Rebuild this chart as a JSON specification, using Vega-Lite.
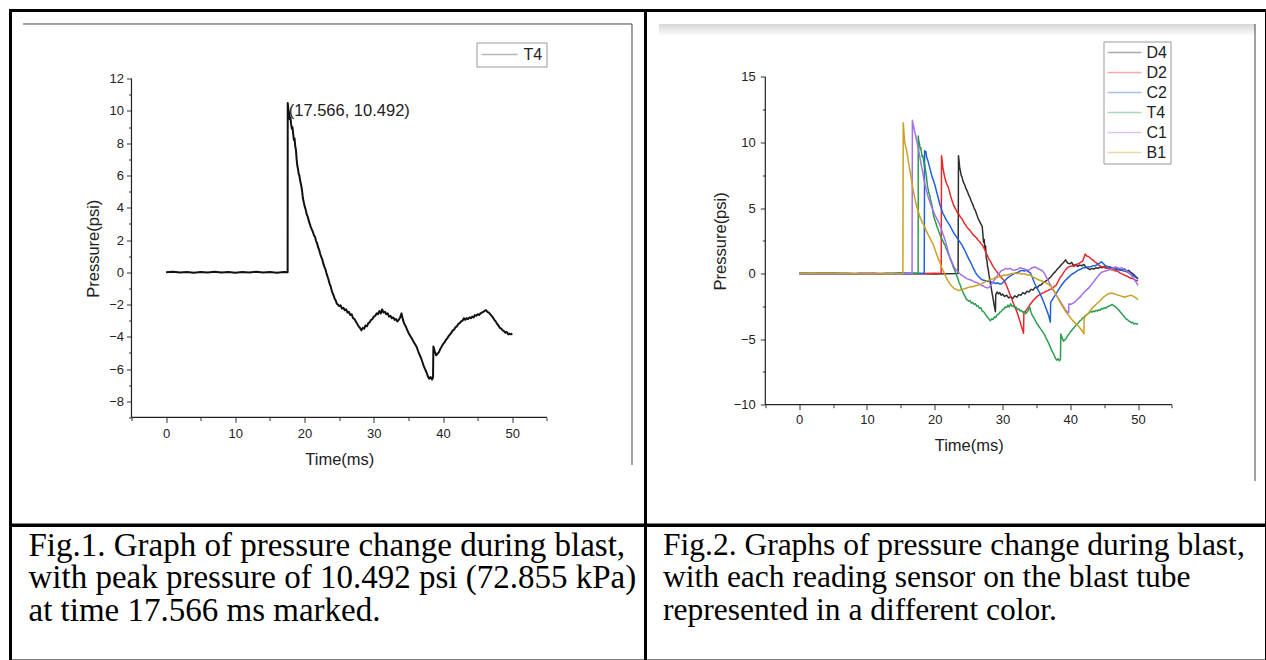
{
"$schema": "https://vega.github.io/schema/vega-lite/v6.json",
"background": "white",
"padding": {"left": 8.5, "top": 8.5, "right": 0, "bottom": 0},
"columns": 2,
"spacing": 0,
"bounds": "flush",
"resolve": {"scale": {"x": "independent", "y": "independent", "color": "independent"}, "axis": {"x": "independent", "y": "independent"}, "legend": {"color": "independent"}},
"config": {
  "view": {"stroke": "black", "strokeWidth": 3},
  "concat": {"spacing": 0},
  "axis": {"grid": false, "domain": false, "labelFont": "Liberation Sans", "titleFont": "Liberation Sans", "labelColor": "#222", "titleColor": "#222", "tickColor": "#333", "tickWidth": 1, "labelFontSize": 13, "titleFontSize": 16.5, "titleFontWeight": "normal", "labelOverlap": false, "labelFlush": false, "labelBound": false},
  "legend": {"labelFont": "Liberation Sans", "labelFontSize": 16, "labelColor": "#222", "symbolType": "stroke", "symbolStrokeWidth": 1.5, "strokeColor": "#999", "labelOffset": 5, "clipHeight": 16}
},
"datasets": {
"ann": [{"t": 17.566, "p": 10.492, "label": "(17.566, 10.492)"}],
"cap1": [{"line": 1, "text": "Fig.1. Graph of pressure change during blast,"}, {"line": 2, "text": "with peak pressure of 10.492 psi (72.855 kPa)"}, {"line": 3, "text": "at time 17.566 ms marked."}],
"cap2": [{"line": 1, "text": "Fig.2. Graphs of pressure change during blast,"}, {"line": 2, "text": "with each reading sensor on the blast tube"}, {"line": 3, "text": "represented in a different color."}],
"sensors": [
{"s":"D4","t":0,"p":0},{"s":"D4","t":5,"p":0.02},{"s":"D4","t":10,"p":-0.02},{"s":"D4","t":15,"p":0.02},{"s":"D4","t":20,"p":-0.02},{"s":"D4","t":23.45,"p":0},
{"s":"D4","t":23.5,"p":9.0},{"s":"D4","t":23.6,"p":8.5},{"s":"D4","t":23.7,"p":8.0},{"s":"D4","t":23.8,"p":7.8},{"s":"D4","t":23.9,"p":7.5},{"s":"D4","t":24.0,"p":7.4},{"s":"D4","t":24.2,"p":7.0},{"s":"D4","t":24.4,"p":6.8},{"s":"D4","t":24.6,"p":6.5},{"s":"D4","t":24.8,"p":6.3},{"s":"D4","t":25.0,"p":6.0},{"s":"D4","t":25.2,"p":5.8},{"s":"D4","t":25.4,"p":5.5},{"s":"D4","t":25.6,"p":5.3},{"s":"D4","t":25.8,"p":5.0},{"s":"D4","t":26.0,"p":4.8},{"s":"D4","t":26.2,"p":4.5},{"s":"D4","t":26.4,"p":4.2},{"s":"D4","t":26.6,"p":4.0},{"s":"D4","t":26.8,"p":3.8},{"s":"D4","t":27.0,"p":3.6},{"s":"D4","t":27.1,"p":3.0},{"s":"D4","t":27.2,"p":2.4},{"s":"D4","t":27.3,"p":2.6},{"s":"D4","t":27.4,"p":1.8},{"s":"D4","t":27.5,"p":2.1},{"s":"D4","t":27.6,"p":1.2},{"s":"D4","t":27.7,"p":1.0},{"s":"D4","t":27.8,"p":0.5},{"s":"D4","t":27.9,"p":0.3},{"s":"D4","t":28.0,"p":-0.1},{"s":"D4","t":28.2,"p":-0.7},{"s":"D4","t":28.4,"p":-1.3},{"s":"D4","t":28.6,"p":-1.9},{"s":"D4","t":28.8,"p":-2.5},{"s":"D4","t":28.95,"p":-2.9},{"s":"D4","t":29.0,"p":-1.6},{"s":"D4","t":29.2,"p":-1.4},{"s":"D4","t":29.4,"p":-1.55},{"s":"D4","t":29.6,"p":-1.45},{"s":"D4","t":29.8,"p":-1.65},{"s":"D4","t":30.0,"p":-1.55},{"s":"D4","t":30.3,"p":-1.75},{"s":"D4","t":30.6,"p":-1.65},{"s":"D4","t":30.9,"p":-1.85},{"s":"D4","t":31.2,"p":-1.75},{"s":"D4","t":31.5,"p":-1.9},{"s":"D4","t":31.8,"p":-1.7},{"s":"D4","t":32.1,"p":-1.8},{"s":"D4","t":32.4,"p":-1.6},{"s":"D4","t":32.7,"p":-1.65},{"s":"D4","t":33.0,"p":-1.45},{"s":"D4","t":33.3,"p":-1.55},{"s":"D4","t":33.6,"p":-1.35},{"s":"D4","t":33.9,"p":-1.4},{"s":"D4","t":34.2,"p":-1.2},{"s":"D4","t":34.5,"p":-1.25},{"s":"D4","t":34.8,"p":-1.05},{"s":"D4","t":35.1,"p":-1.1},{"s":"D4","t":35.4,"p":-0.9},{"s":"D4","t":35.7,"p":-0.85},{"s":"D4","t":36.0,"p":-0.7},{"s":"D4","t":36.3,"p":-0.6},{"s":"D4","t":36.6,"p":-0.5},{"s":"D4","t":36.9,"p":-0.35},{"s":"D4","t":37.2,"p":-0.2},{"s":"D4","t":37.5,"p":0.0},{"s":"D4","t":37.8,"p":0.15},{"s":"D4","t":38.1,"p":0.35},{"s":"D4","t":38.4,"p":0.5},{"s":"D4","t":38.7,"p":0.7},{"s":"D4","t":39.0,"p":0.85},{"s":"D4","t":39.3,"p":1.05},{"s":"D4","t":39.6,"p":0.8},{"s":"D4","t":39.9,"p":0.75},{"s":"D4","t":40.2,"p":0.85},{"s":"D4","t":40.5,"p":0.6},{"s":"D4","t":40.8,"p":0.7},{"s":"D4","t":41.1,"p":0.55},{"s":"D4","t":41.4,"p":0.65},{"s":"D4","t":41.7,"p":0.6},{"s":"D4","t":42.0,"p":0.7},{"s":"D4","t":42.3,"p":0.5},{"s":"D4","t":42.6,"p":0.4},{"s":"D4","t":42.9,"p":0.3},{"s":"D4","t":43.2,"p":0.4},{"s":"D4","t":43.5,"p":0.35},{"s":"D4","t":43.8,"p":0.45},{"s":"D4","t":44.1,"p":0.4},{"s":"D4","t":44.4,"p":0.5},{"s":"D4","t":44.7,"p":0.45},{"s":"D4","t":45.0,"p":0.55},{"s":"D4","t":45.3,"p":0.45},{"s":"D4","t":45.6,"p":0.4},{"s":"D4","t":45.9,"p":0.5},{"s":"D4","t":46.2,"p":0.35},{"s":"D4","t":46.5,"p":0.4},{"s":"D4","t":46.8,"p":0.3},{"s":"D4","t":47.1,"p":0.35},{"s":"D4","t":47.4,"p":0.25},{"s":"D4","t":47.7,"p":0.3},{"s":"D4","t":48.0,"p":0.35},{"s":"D4","t":48.3,"p":0.2},{"s":"D4","t":48.6,"p":0.25},{"s":"D4","t":48.9,"p":0.1},{"s":"D4","t":49.2,"p":0.0},{"s":"D4","t":49.5,"p":-0.15},{"s":"D4","t":49.8,"p":-0.3},{"s":"D4","t":50.0,"p":-0.4},
{"s":"D2","t":0,"p":0},{"s":"D2","t":5,"p":-0.02},{"s":"D2","t":10,"p":0.02},{"s":"D2","t":15,"p":-0.02},{"s":"D2","t":20,"p":0.02},{"s":"D2","t":20.95,"p":0},
{"s":"D2","t":21.0,"p":9.0},{"s":"D2","t":21.1,"p":8.6},{"s":"D2","t":21.2,"p":8.1},{"s":"D2","t":21.3,"p":7.8},{"s":"D2","t":21.45,"p":7.4},{"s":"D2","t":21.6,"p":7.1},{"s":"D2","t":21.8,"p":6.8},{"s":"D2","t":22.0,"p":6.6},{"s":"D2","t":22.2,"p":6.2},{"s":"D2","t":22.4,"p":5.8},{"s":"D2","t":22.6,"p":5.5},{"s":"D2","t":22.8,"p":5.2},{"s":"D2","t":23.0,"p":5.0},{"s":"D2","t":23.2,"p":4.8},{"s":"D2","t":23.4,"p":4.6},{"s":"D2","t":23.6,"p":4.5},{"s":"D2","t":23.8,"p":4.3},{"s":"D2","t":24.0,"p":4.2},{"s":"D2","t":24.2,"p":4.0},{"s":"D2","t":24.4,"p":3.8},{"s":"D2","t":24.6,"p":3.7},{"s":"D2","t":24.8,"p":3.5},{"s":"D2","t":25.0,"p":3.4},{"s":"D2","t":25.2,"p":3.3},{"s":"D2","t":25.4,"p":3.15},{"s":"D2","t":25.6,"p":3.0},{"s":"D2","t":25.8,"p":2.9},{"s":"D2","t":26.0,"p":2.8},{"s":"D2","t":26.2,"p":2.7},{"s":"D2","t":26.4,"p":2.55},{"s":"D2","t":26.6,"p":2.45},{"s":"D2","t":26.8,"p":2.3},{"s":"D2","t":27.0,"p":2.2},{"s":"D2","t":27.2,"p":2.0},{"s":"D2","t":27.4,"p":1.8},{"s":"D2","t":27.6,"p":1.55},{"s":"D2","t":27.8,"p":1.35},{"s":"D2","t":28.0,"p":1.1},{"s":"D2","t":28.2,"p":0.95},{"s":"D2","t":28.4,"p":0.75},{"s":"D2","t":28.6,"p":0.55},{"s":"D2","t":28.8,"p":0.4},{"s":"D2","t":29.0,"p":0.25},{"s":"D2","t":29.3,"p":0.05},{"s":"D2","t":29.6,"p":-0.15},{"s":"D2","t":29.9,"p":-0.35},{"s":"D2","t":30.2,"p":-0.5},{"s":"D2","t":30.5,"p":-0.8},{"s":"D2","t":30.8,"p":-1.2},{"s":"D2","t":31.1,"p":-1.6},{"s":"D2","t":31.4,"p":-2.0},{"s":"D2","t":31.7,"p":-2.4},{"s":"D2","t":32.0,"p":-2.75},{"s":"D2","t":32.3,"p":-3.2},{"s":"D2","t":32.6,"p":-3.7},{"s":"D2","t":32.9,"p":-4.2},{"s":"D2","t":33.1,"p":-4.55},{"s":"D2","t":33.15,"p":-3.0},{"s":"D2","t":33.4,"p":-2.85},{"s":"D2","t":33.7,"p":-2.65},{"s":"D2","t":34.0,"p":-2.4},{"s":"D2","t":34.3,"p":-2.2},{"s":"D2","t":34.6,"p":-2.0},{"s":"D2","t":34.9,"p":-1.85},{"s":"D2","t":35.2,"p":-1.7},{"s":"D2","t":35.5,"p":-1.6},{"s":"D2","t":35.8,"p":-1.5},{"s":"D2","t":36.1,"p":-1.45},{"s":"D2","t":36.4,"p":-1.35},{"s":"D2","t":36.7,"p":-1.3},{"s":"D2","t":37.0,"p":-1.2},{"s":"D2","t":37.3,"p":-1.15},{"s":"D2","t":37.6,"p":-1.0},{"s":"D2","t":37.9,"p":-0.9},{"s":"D2","t":38.2,"p":-0.6},{"s":"D2","t":38.5,"p":-0.3},{"s":"D2","t":38.8,"p":-0.1},{"s":"D2","t":39.1,"p":0.15},{"s":"D2","t":39.4,"p":0.35},{"s":"D2","t":39.7,"p":0.5},{"s":"D2","t":40.0,"p":0.55},{"s":"D2","t":40.3,"p":0.6},{"s":"D2","t":40.6,"p":0.55},{"s":"D2","t":40.9,"p":0.7},{"s":"D2","t":41.2,"p":0.75},{"s":"D2","t":41.5,"p":0.85},{"s":"D2","t":41.8,"p":0.95},{"s":"D2","t":42.0,"p":1.2},{"s":"D2","t":42.2,"p":1.5},{"s":"D2","t":42.4,"p":1.35},{"s":"D2","t":42.7,"p":1.3},{"s":"D2","t":43.0,"p":1.15},{"s":"D2","t":43.3,"p":1.05},{"s":"D2","t":43.6,"p":0.9},{"s":"D2","t":43.9,"p":0.8},{"s":"D2","t":44.2,"p":0.65},{"s":"D2","t":44.5,"p":0.55},{"s":"D2","t":44.8,"p":0.5},{"s":"D2","t":45.1,"p":0.45},{"s":"D2","t":45.4,"p":0.4},{"s":"D2","t":45.7,"p":0.4},{"s":"D2","t":46.0,"p":0.3},{"s":"D2","t":46.3,"p":0.3},{"s":"D2","t":46.6,"p":0.2},{"s":"D2","t":46.9,"p":0.2},{"s":"D2","t":47.2,"p":0.1},{"s":"D2","t":47.5,"p":0.0},{"s":"D2","t":47.8,"p":-0.05},{"s":"D2","t":48.1,"p":-0.15},{"s":"D2","t":48.4,"p":-0.2},{"s":"D2","t":48.7,"p":-0.3},{"s":"D2","t":49.0,"p":-0.35},{"s":"D2","t":49.3,"p":-0.4},{"s":"D2","t":49.6,"p":-0.5},{"s":"D2","t":50.0,"p":-0.55},
{"s":"C2","t":0,"p":0},{"s":"C2","t":5,"p":0.02},{"s":"C2","t":10,"p":-0.02},{"s":"C2","t":15,"p":0.02},{"s":"C2","t":18.45,"p":0},
{"s":"C2","t":18.5,"p":9.4},{"s":"C2","t":18.6,"p":9.2},{"s":"C2","t":18.7,"p":9.3},{"s":"C2","t":18.8,"p":8.9},{"s":"C2","t":19.0,"p":8.6},{"s":"C2","t":19.2,"p":8.2},{"s":"C2","t":19.4,"p":7.8},{"s":"C2","t":19.6,"p":7.4},{"s":"C2","t":19.8,"p":7.1},{"s":"C2","t":20.0,"p":6.8},{"s":"C2","t":20.2,"p":6.4},{"s":"C2","t":20.4,"p":6.0},{"s":"C2","t":20.6,"p":5.6},{"s":"C2","t":20.8,"p":5.2},{"s":"C2","t":21.0,"p":4.9},{"s":"C2","t":21.2,"p":4.6},{"s":"C2","t":21.4,"p":4.4},{"s":"C2","t":21.6,"p":4.2},{"s":"C2","t":21.8,"p":4.0},{"s":"C2","t":22.0,"p":3.85},{"s":"C2","t":22.2,"p":3.7},{"s":"C2","t":22.4,"p":3.5},{"s":"C2","t":22.6,"p":3.3},{"s":"C2","t":22.8,"p":3.1},{"s":"C2","t":23.0,"p":2.95},{"s":"C2","t":23.2,"p":2.8},{"s":"C2","t":23.4,"p":2.65},{"s":"C2","t":23.6,"p":2.5},{"s":"C2","t":23.8,"p":2.35},{"s":"C2","t":24.0,"p":2.2},{"s":"C2","t":24.2,"p":2.0},{"s":"C2","t":24.4,"p":1.8},{"s":"C2","t":24.6,"p":1.6},{"s":"C2","t":24.8,"p":1.35},{"s":"C2","t":25.0,"p":1.15},{"s":"C2","t":25.2,"p":0.95},{"s":"C2","t":25.4,"p":0.75},{"s":"C2","t":25.6,"p":0.5},{"s":"C2","t":25.8,"p":0.3},{"s":"C2","t":26.0,"p":0.1},{"s":"C2","t":26.3,"p":-0.15},{"s":"C2","t":26.6,"p":-0.3},{"s":"C2","t":26.9,"p":-0.45},{"s":"C2","t":27.2,"p":-0.5},{"s":"C2","t":27.5,"p":-0.55},{"s":"C2","t":27.8,"p":-0.6},{"s":"C2","t":28.1,"p":-0.55},{"s":"C2","t":28.4,"p":-0.65},{"s":"C2","t":28.7,"p":-0.7},{"s":"C2","t":29.0,"p":-0.75},{"s":"C2","t":29.3,"p":-0.7},{"s":"C2","t":29.6,"p":-0.8},{"s":"C2","t":29.9,"p":-0.75},{"s":"C2","t":30.2,"p":-0.6},{"s":"C2","t":30.5,"p":-0.45},{"s":"C2","t":30.8,"p":-0.3},{"s":"C2","t":31.1,"p":-0.2},{"s":"C2","t":31.4,"p":-0.1},{"s":"C2","t":31.7,"p":0.0},{"s":"C2","t":32.0,"p":0.05},{"s":"C2","t":32.3,"p":0.1},{"s":"C2","t":32.6,"p":0.2},{"s":"C2","t":32.9,"p":0.25},{"s":"C2","t":33.2,"p":0.2},{"s":"C2","t":33.5,"p":0.25},{"s":"C2","t":33.8,"p":0.15},{"s":"C2","t":34.1,"p":0.05},{"s":"C2","t":34.4,"p":-0.3},{"s":"C2","t":34.7,"p":-0.7},{"s":"C2","t":35.0,"p":-1.0},{"s":"C2","t":35.3,"p":-1.3},{"s":"C2","t":35.6,"p":-1.6},{"s":"C2","t":35.9,"p":-1.95},{"s":"C2","t":36.2,"p":-2.35},{"s":"C2","t":36.5,"p":-2.75},{"s":"C2","t":36.8,"p":-3.2},{"s":"C2","t":37.05,"p":-3.7},{"s":"C2","t":37.1,"p":-2.2},{"s":"C2","t":37.4,"p":-1.95},{"s":"C2","t":37.7,"p":-1.7},{"s":"C2","t":38.0,"p":-1.45},{"s":"C2","t":38.3,"p":-1.2},{"s":"C2","t":38.6,"p":-0.95},{"s":"C2","t":38.9,"p":-0.75},{"s":"C2","t":39.2,"p":-0.55},{"s":"C2","t":39.5,"p":-0.4},{"s":"C2","t":39.8,"p":-0.25},{"s":"C2","t":40.1,"p":-0.1},{"s":"C2","t":40.4,"p":0.0},{"s":"C2","t":40.7,"p":0.1},{"s":"C2","t":41.0,"p":0.2},{"s":"C2","t":41.3,"p":0.3},{"s":"C2","t":41.6,"p":0.35},{"s":"C2","t":41.9,"p":0.45},{"s":"C2","t":42.2,"p":0.45},{"s":"C2","t":42.5,"p":0.5},{"s":"C2","t":42.8,"p":0.5},{"s":"C2","t":43.1,"p":0.55},{"s":"C2","t":43.4,"p":0.6},{"s":"C2","t":43.7,"p":0.6},{"s":"C2","t":44.0,"p":0.7},{"s":"C2","t":44.3,"p":0.8},{"s":"C2","t":44.6,"p":0.9},{"s":"C2","t":44.9,"p":0.75},{"s":"C2","t":45.2,"p":0.6},{"s":"C2","t":45.5,"p":0.55},{"s":"C2","t":45.8,"p":0.5},{"s":"C2","t":46.1,"p":0.45},{"s":"C2","t":46.4,"p":0.4},{"s":"C2","t":46.7,"p":0.4},{"s":"C2","t":47.0,"p":0.3},{"s":"C2","t":47.3,"p":0.3},{"s":"C2","t":47.6,"p":0.25},{"s":"C2","t":47.9,"p":0.2},{"s":"C2","t":48.2,"p":0.15},{"s":"C2","t":48.5,"p":0.1},{"s":"C2","t":48.8,"p":0.0},{"s":"C2","t":49.1,"p":-0.1},{"s":"C2","t":49.4,"p":-0.2},{"s":"C2","t":49.7,"p":-0.3},{"s":"C2","t":50.0,"p":-0.4},
{"s":"T4","t":0,"p":0},{"s":"T4","t":1,"p":0.03},{"s":"T4","t":2,"p":-0.02},{"s":"T4","t":3,"p":0.02},{"s":"T4","t":4,"p":-0.03},{"s":"T4","t":5,"p":0.02},{"s":"T4","t":6,"p":-0.02},{"s":"T4","t":7,"p":0.03},{"s":"T4","t":8,"p":-0.02},{"s":"T4","t":9,"p":0.02},{"s":"T4","t":10,"p":-0.03},{"s":"T4","t":11,"p":0.02},{"s":"T4","t":12,"p":-0.02},{"s":"T4","t":13,"p":0.03},{"s":"T4","t":14,"p":-0.02},{"s":"T4","t":15,"p":0.02},{"s":"T4","t":16,"p":-0.03},{"s":"T4","t":17,"p":0.02},{"s":"T4","t":17.55,"p":0.0},
{"s":"T4","t":17.566,"p":10.492},{"s":"T4","t":17.65,"p":10.1},{"s":"T4","t":17.75,"p":9.9},{"s":"T4","t":17.85,"p":9.5},{"s":"T4","t":17.95,"p":9.6},{"s":"T4","t":18.05,"p":9.2},{"s":"T4","t":18.15,"p":8.9},{"s":"T4","t":18.25,"p":9.0},{"s":"T4","t":18.35,"p":8.6},{"s":"T4","t":18.45,"p":8.2},{"s":"T4","t":18.55,"p":8.3},{"s":"T4","t":18.65,"p":7.8},{"s":"T4","t":18.75,"p":7.6},{"s":"T4","t":18.85,"p":7.0},{"s":"T4","t":18.95,"p":6.6},{"s":"T4","t":19.05,"p":6.4},{"s":"T4","t":19.15,"p":6.1},{"s":"T4","t":19.25,"p":6.0},{"s":"T4","t":19.35,"p":5.7},{"s":"T4","t":19.45,"p":5.5},{"s":"T4","t":19.55,"p":5.3},{"s":"T4","t":19.65,"p":5.0},{"s":"T4","t":19.75,"p":4.6},{"s":"T4","t":19.85,"p":4.4},{"s":"T4","t":20.0,"p":4.1},{"s":"T4","t":20.15,"p":3.9},{"s":"T4","t":20.3,"p":3.6},{"s":"T4","t":20.45,"p":3.45},{"s":"T4","t":20.6,"p":3.2},{"s":"T4","t":20.75,"p":3.0},{"s":"T4","t":20.9,"p":2.8},{"s":"T4","t":21.05,"p":2.65},{"s":"T4","t":21.2,"p":2.5},{"s":"T4","t":21.35,"p":2.3},{"s":"T4","t":21.5,"p":2.2},{"s":"T4","t":21.65,"p":1.95},{"s":"T4","t":21.8,"p":1.8},{"s":"T4","t":21.95,"p":1.55},{"s":"T4","t":22.1,"p":1.4},{"s":"T4","t":22.25,"p":1.15},{"s":"T4","t":22.4,"p":0.95},{"s":"T4","t":22.55,"p":0.8},{"s":"T4","t":22.7,"p":0.55},{"s":"T4","t":22.85,"p":0.35},{"s":"T4","t":23.0,"p":0.2},{"s":"T4","t":23.15,"p":-0.05},{"s":"T4","t":23.3,"p":-0.25},{"s":"T4","t":23.45,"p":-0.45},{"s":"T4","t":23.6,"p":-0.7},{"s":"T4","t":23.75,"p":-0.85},{"s":"T4","t":23.9,"p":-1.1},{"s":"T4","t":24.05,"p":-1.3},{"s":"T4","t":24.2,"p":-1.45},{"s":"T4","t":24.35,"p":-1.65},{"s":"T4","t":24.5,"p":-1.75},{"s":"T4","t":24.65,"p":-1.95},{"s":"T4","t":24.8,"p":-2.0},{"s":"T4","t":25.0,"p":-2.1},{"s":"T4","t":25.2,"p":-2.05},{"s":"T4","t":25.4,"p":-2.25},{"s":"T4","t":25.6,"p":-2.2},{"s":"T4","t":25.8,"p":-2.35},{"s":"T4","t":26.0,"p":-2.3},{"s":"T4","t":26.2,"p":-2.5},{"s":"T4","t":26.4,"p":-2.45},{"s":"T4","t":26.6,"p":-2.65},{"s":"T4","t":26.8,"p":-2.6},{"s":"T4","t":27.0,"p":-2.85},{"s":"T4","t":27.2,"p":-2.9},{"s":"T4","t":27.4,"p":-3.05},{"s":"T4","t":27.6,"p":-3.2},{"s":"T4","t":27.8,"p":-3.35},{"s":"T4","t":28.0,"p":-3.45},{"s":"T4","t":28.2,"p":-3.6},{"s":"T4","t":28.4,"p":-3.45},{"s":"T4","t":28.6,"p":-3.5},{"s":"T4","t":28.8,"p":-3.3},{"s":"T4","t":29.0,"p":-3.35},{"s":"T4","t":29.2,"p":-3.15},{"s":"T4","t":29.4,"p":-3.1},{"s":"T4","t":29.6,"p":-2.95},{"s":"T4","t":29.8,"p":-2.9},{"s":"T4","t":30.0,"p":-2.75},{"s":"T4","t":30.2,"p":-2.7},{"s":"T4","t":30.4,"p":-2.55},{"s":"T4","t":30.6,"p":-2.6},{"s":"T4","t":30.8,"p":-2.4},{"s":"T4","t":31.0,"p":-2.55},{"s":"T4","t":31.2,"p":-2.3},{"s":"T4","t":31.4,"p":-2.5},{"s":"T4","t":31.6,"p":-2.45},{"s":"T4","t":31.8,"p":-2.6},{"s":"T4","t":32.0,"p":-2.55},{"s":"T4","t":32.2,"p":-2.75},{"s":"T4","t":32.4,"p":-2.7},{"s":"T4","t":32.6,"p":-2.85},{"s":"T4","t":32.8,"p":-2.8},{"s":"T4","t":33.0,"p":-2.95},{"s":"T4","t":33.2,"p":-2.9},{"s":"T4","t":33.4,"p":-3.05},{"s":"T4","t":33.6,"p":-2.95},{"s":"T4","t":33.8,"p":-2.8},{"s":"T4","t":34.0,"p":-2.55},{"s":"T4","t":34.2,"p":-2.95},{"s":"T4","t":34.4,"p":-3.2},{"s":"T4","t":34.6,"p":-3.35},{"s":"T4","t":34.8,"p":-3.55},{"s":"T4","t":35.0,"p":-3.75},{"s":"T4","t":35.2,"p":-3.9},{"s":"T4","t":35.4,"p":-4.05},{"s":"T4","t":35.6,"p":-4.2},{"s":"T4","t":35.8,"p":-4.35},{"s":"T4","t":36.0,"p":-4.5},{"s":"T4","t":36.2,"p":-4.65},{"s":"T4","t":36.4,"p":-4.9},{"s":"T4","t":36.6,"p":-5.1},{"s":"T4","t":36.8,"p":-5.3},{"s":"T4","t":37.0,"p":-5.55},{"s":"T4","t":37.2,"p":-5.8},{"s":"T4","t":37.4,"p":-6.0},{"s":"T4","t":37.6,"p":-6.2},{"s":"T4","t":37.8,"p":-6.45},{"s":"T4","t":38.0,"p":-6.6},{"s":"T4","t":38.2,"p":-6.5},{"s":"T4","t":38.4,"p":-6.65},{"s":"T4","t":38.55,"p":-6.5},{"s":"T4","t":38.6,"p":-4.6},{"s":"T4","t":38.8,"p":-4.9},{"s":"T4","t":39.0,"p":-5.15},{"s":"T4","t":39.2,"p":-5.05},{"s":"T4","t":39.4,"p":-4.95},{"s":"T4","t":39.6,"p":-4.75},{"s":"T4","t":39.8,"p":-4.6},{"s":"T4","t":40.0,"p":-4.45},{"s":"T4","t":40.2,"p":-4.35},{"s":"T4","t":40.4,"p":-4.2},{"s":"T4","t":40.6,"p":-4.1},{"s":"T4","t":40.8,"p":-3.95},{"s":"T4","t":41.0,"p":-3.85},{"s":"T4","t":41.2,"p":-3.75},{"s":"T4","t":41.4,"p":-3.6},{"s":"T4","t":41.6,"p":-3.55},{"s":"T4","t":41.8,"p":-3.4},{"s":"T4","t":42.0,"p":-3.35},{"s":"T4","t":42.2,"p":-3.2},{"s":"T4","t":42.4,"p":-3.15},{"s":"T4","t":42.6,"p":-3.05},{"s":"T4","t":42.8,"p":-3.0},{"s":"T4","t":43.0,"p":-2.85},{"s":"T4","t":43.2,"p":-2.95},{"s":"T4","t":43.4,"p":-2.85},{"s":"T4","t":43.6,"p":-2.9},{"s":"T4","t":43.8,"p":-2.8},{"s":"T4","t":44.0,"p":-2.85},{"s":"T4","t":44.2,"p":-2.75},{"s":"T4","t":44.4,"p":-2.8},{"s":"T4","t":44.6,"p":-2.65},{"s":"T4","t":44.8,"p":-2.7},{"s":"T4","t":45.0,"p":-2.6},{"s":"T4","t":45.2,"p":-2.65},{"s":"T4","t":45.4,"p":-2.55},{"s":"T4","t":45.6,"p":-2.5},{"s":"T4","t":45.8,"p":-2.45},{"s":"T4","t":46.0,"p":-2.4},{"s":"T4","t":46.2,"p":-2.35},{"s":"T4","t":46.4,"p":-2.45},{"s":"T4","t":46.6,"p":-2.5},{"s":"T4","t":46.8,"p":-2.6},{"s":"T4","t":47.0,"p":-2.7},{"s":"T4","t":47.2,"p":-2.8},{"s":"T4","t":47.4,"p":-2.95},{"s":"T4","t":47.6,"p":-3.05},{"s":"T4","t":47.8,"p":-3.2},{"s":"T4","t":48.0,"p":-3.3},{"s":"T4","t":48.2,"p":-3.45},{"s":"T4","t":48.4,"p":-3.5},{"s":"T4","t":48.6,"p":-3.6},{"s":"T4","t":48.8,"p":-3.65},{"s":"T4","t":49.0,"p":-3.75},{"s":"T4","t":49.2,"p":-3.7},{"s":"T4","t":49.4,"p":-3.85},{"s":"T4","t":49.6,"p":-3.8},{"s":"T4","t":49.8,"p":-3.85},{"s":"T4","t":50.0,"p":-3.8},
{"s":"C1","t":0,"p":0},{"s":"C1","t":5,"p":-0.02},{"s":"C1","t":10,"p":0.02},{"s":"C1","t":15,"p":-0.02},{"s":"C1","t":16.65,"p":0},
{"s":"C1","t":16.7,"p":11.7},{"s":"C1","t":16.8,"p":11.4},{"s":"C1","t":16.9,"p":11.2},{"s":"C1","t":17.0,"p":10.9},{"s":"C1","t":17.2,"p":10.5},{"s":"C1","t":17.4,"p":10.0},{"s":"C1","t":17.6,"p":9.5},{"s":"C1","t":17.8,"p":8.9},{"s":"C1","t":18.0,"p":8.3},{"s":"C1","t":18.2,"p":7.8},{"s":"C1","t":18.4,"p":7.2},{"s":"C1","t":18.6,"p":6.7},{"s":"C1","t":18.8,"p":6.3},{"s":"C1","t":19.0,"p":5.9},{"s":"C1","t":19.2,"p":5.6},{"s":"C1","t":19.4,"p":5.3},{"s":"C1","t":19.6,"p":5.0},{"s":"C1","t":19.8,"p":4.75},{"s":"C1","t":20.0,"p":4.5},{"s":"C1","t":20.2,"p":4.3},{"s":"C1","t":20.4,"p":4.1},{"s":"C1","t":20.6,"p":3.9},{"s":"C1","t":20.8,"p":3.65},{"s":"C1","t":21.0,"p":3.35},{"s":"C1","t":21.2,"p":3.05},{"s":"C1","t":21.4,"p":2.75},{"s":"C1","t":21.6,"p":2.4},{"s":"C1","t":21.8,"p":2.05},{"s":"C1","t":22.0,"p":1.65},{"s":"C1","t":22.2,"p":1.3},{"s":"C1","t":22.4,"p":1.05},{"s":"C1","t":22.6,"p":0.8},{"s":"C1","t":22.8,"p":0.55},{"s":"C1","t":23.0,"p":0.4},{"s":"C1","t":23.3,"p":0.2},{"s":"C1","t":23.6,"p":0.05},{"s":"C1","t":23.9,"p":-0.1},{"s":"C1","t":24.2,"p":-0.2},{"s":"C1","t":24.5,"p":-0.3},{"s":"C1","t":24.8,"p":-0.4},{"s":"C1","t":25.1,"p":-0.45},{"s":"C1","t":25.4,"p":-0.5},{"s":"C1","t":25.7,"p":-0.6},{"s":"C1","t":26.0,"p":-0.65},{"s":"C1","t":26.3,"p":-0.7},{"s":"C1","t":26.6,"p":-0.8},{"s":"C1","t":26.9,"p":-0.9},{"s":"C1","t":27.2,"p":-0.95},{"s":"C1","t":27.5,"p":-1.05},{"s":"C1","t":27.8,"p":-1.1},{"s":"C1","t":28.1,"p":-1.0},{"s":"C1","t":28.4,"p":-0.8},{"s":"C1","t":28.7,"p":-0.55},{"s":"C1","t":29.0,"p":-0.35},{"s":"C1","t":29.3,"p":-0.1},{"s":"C1","t":29.6,"p":0.1},{"s":"C1","t":29.9,"p":0.25},{"s":"C1","t":30.2,"p":0.3},{"s":"C1","t":30.5,"p":0.4},{"s":"C1","t":30.8,"p":0.35},{"s":"C1","t":31.1,"p":0.4},{"s":"C1","t":31.4,"p":0.3},{"s":"C1","t":31.7,"p":0.25},{"s":"C1","t":32.0,"p":0.3},{"s":"C1","t":32.3,"p":0.35},{"s":"C1","t":32.6,"p":0.45},{"s":"C1","t":32.9,"p":0.4},{"s":"C1","t":33.2,"p":0.35},{"s":"C1","t":33.5,"p":0.3},{"s":"C1","t":33.8,"p":0.25},{"s":"C1","t":34.1,"p":0.35},{"s":"C1","t":34.4,"p":0.45},{"s":"C1","t":34.7,"p":0.5},{"s":"C1","t":35.0,"p":0.45},{"s":"C1","t":35.3,"p":0.35},{"s":"C1","t":35.6,"p":0.3},{"s":"C1","t":35.9,"p":0.2},{"s":"C1","t":36.2,"p":0.0},{"s":"C1","t":36.5,"p":-0.3},{"s":"C1","t":36.8,"p":-0.6},{"s":"C1","t":37.1,"p":-0.9},{"s":"C1","t":37.4,"p":-1.2},{"s":"C1","t":37.7,"p":-1.45},{"s":"C1","t":38.0,"p":-1.7},{"s":"C1","t":38.3,"p":-1.95},{"s":"C1","t":38.6,"p":-2.2},{"s":"C1","t":38.9,"p":-2.45},{"s":"C1","t":39.2,"p":-2.7},{"s":"C1","t":39.5,"p":-2.9},{"s":"C1","t":39.75,"p":-3.0},{"s":"C1","t":39.8,"p":-2.3},{"s":"C1","t":40.1,"p":-2.35},{"s":"C1","t":40.4,"p":-2.25},{"s":"C1","t":40.7,"p":-2.15},{"s":"C1","t":41.0,"p":-2.0},{"s":"C1","t":41.3,"p":-1.85},{"s":"C1","t":41.6,"p":-1.7},{"s":"C1","t":41.9,"p":-1.5},{"s":"C1","t":42.2,"p":-1.35},{"s":"C1","t":42.5,"p":-1.2},{"s":"C1","t":42.8,"p":-1.05},{"s":"C1","t":43.1,"p":-0.85},{"s":"C1","t":43.4,"p":-0.65},{"s":"C1","t":43.7,"p":-0.45},{"s":"C1","t":44.0,"p":-0.25},{"s":"C1","t":44.3,"p":-0.05},{"s":"C1","t":44.6,"p":0.1},{"s":"C1","t":44.9,"p":0.15},{"s":"C1","t":45.2,"p":0.2},{"s":"C1","t":45.5,"p":0.25},{"s":"C1","t":45.8,"p":0.3},{"s":"C1","t":46.1,"p":0.35},{"s":"C1","t":46.4,"p":0.45},{"s":"C1","t":46.7,"p":0.5},{"s":"C1","t":47.0,"p":0.45},{"s":"C1","t":47.3,"p":0.4},{"s":"C1","t":47.6,"p":0.45},{"s":"C1","t":47.9,"p":0.3},{"s":"C1","t":48.2,"p":0.25},{"s":"C1","t":48.5,"p":0.15},{"s":"C1","t":48.8,"p":0.0},{"s":"C1","t":49.1,"p":-0.2},{"s":"C1","t":49.4,"p":-0.4},{"s":"C1","t":49.7,"p":-0.65},{"s":"C1","t":50.0,"p":-0.9},
{"s":"B1","t":0,"p":0},{"s":"B1","t":5,"p":0.02},{"s":"B1","t":10,"p":-0.02},{"s":"B1","t":15.3,"p":0},
{"s":"B1","t":15.35,"p":11.5},{"s":"B1","t":15.45,"p":10.8},{"s":"B1","t":15.55,"p":10.1},{"s":"B1","t":15.65,"p":9.8},{"s":"B1","t":15.8,"p":9.5},{"s":"B1","t":15.95,"p":9.1},{"s":"B1","t":16.1,"p":8.6},{"s":"B1","t":16.25,"p":8.1},{"s":"B1","t":16.4,"p":7.7},{"s":"B1","t":16.55,"p":7.2},{"s":"B1","t":16.7,"p":6.7},{"s":"B1","t":16.85,"p":6.3},{"s":"B1","t":17.0,"p":5.9},{"s":"B1","t":17.2,"p":5.4},{"s":"B1","t":17.4,"p":5.0},{"s":"B1","t":17.6,"p":4.7},{"s":"B1","t":17.8,"p":4.35},{"s":"B1","t":18.0,"p":4.1},{"s":"B1","t":18.2,"p":3.85},{"s":"B1","t":18.4,"p":3.7},{"s":"B1","t":18.6,"p":3.45},{"s":"B1","t":18.8,"p":3.2},{"s":"B1","t":19.0,"p":3.0},{"s":"B1","t":19.2,"p":2.8},{"s":"B1","t":19.4,"p":2.6},{"s":"B1","t":19.6,"p":2.4},{"s":"B1","t":19.8,"p":2.2},{"s":"B1","t":20.0,"p":1.9},{"s":"B1","t":20.2,"p":1.6},{"s":"B1","t":20.4,"p":1.3},{"s":"B1","t":20.6,"p":1.05},{"s":"B1","t":20.8,"p":0.8},{"s":"B1","t":21.0,"p":0.5},{"s":"B1","t":21.2,"p":0.25},{"s":"B1","t":21.4,"p":0.05},{"s":"B1","t":21.6,"p":-0.2},{"s":"B1","t":21.8,"p":-0.4},{"s":"B1","t":22.0,"p":-0.6},{"s":"B1","t":22.2,"p":-0.75},{"s":"B1","t":22.4,"p":-0.9},{"s":"B1","t":22.6,"p":-1.0},{"s":"B1","t":22.9,"p":-1.15},{"s":"B1","t":23.2,"p":-1.2},{"s":"B1","t":23.5,"p":-1.3},{"s":"B1","t":23.8,"p":-1.25},{"s":"B1","t":24.1,"p":-1.2},{"s":"B1","t":24.4,"p":-1.15},{"s":"B1","t":24.7,"p":-1.1},{"s":"B1","t":25.0,"p":-1.05},{"s":"B1","t":25.3,"p":-1.0},{"s":"B1","t":25.6,"p":-1.0},{"s":"B1","t":25.9,"p":-0.95},{"s":"B1","t":26.2,"p":-0.9},{"s":"B1","t":26.5,"p":-0.85},{"s":"B1","t":26.8,"p":-0.8},{"s":"B1","t":27.1,"p":-0.7},{"s":"B1","t":27.4,"p":-0.65},{"s":"B1","t":27.7,"p":-0.55},{"s":"B1","t":28.0,"p":-0.5},{"s":"B1","t":28.3,"p":-0.45},{"s":"B1","t":28.6,"p":-0.4},{"s":"B1","t":28.9,"p":-0.3},{"s":"B1","t":29.2,"p":-0.3},{"s":"B1","t":29.5,"p":-0.25},{"s":"B1","t":29.8,"p":-0.2},{"s":"B1","t":30.1,"p":-0.15},{"s":"B1","t":30.4,"p":-0.1},{"s":"B1","t":30.7,"p":-0.1},{"s":"B1","t":31.0,"p":-0.05},{"s":"B1","t":31.3,"p":0.0},{"s":"B1","t":31.6,"p":0.0},{"s":"B1","t":31.9,"p":0.05},{"s":"B1","t":32.2,"p":0.0},{"s":"B1","t":32.5,"p":0.05},{"s":"B1","t":32.8,"p":-0.05},{"s":"B1","t":33.1,"p":0.0},{"s":"B1","t":33.4,"p":-0.05},{"s":"B1","t":33.7,"p":-0.1},{"s":"B1","t":34.0,"p":-0.1},{"s":"B1","t":34.3,"p":-0.2},{"s":"B1","t":34.6,"p":-0.3},{"s":"B1","t":34.9,"p":-0.35},{"s":"B1","t":35.2,"p":-0.45},{"s":"B1","t":35.5,"p":-0.5},{"s":"B1","t":35.8,"p":-0.55},{"s":"B1","t":36.1,"p":-0.65},{"s":"B1","t":36.4,"p":-0.7},{"s":"B1","t":36.7,"p":-0.8},{"s":"B1","t":37.0,"p":-0.9},{"s":"B1","t":37.3,"p":-1.05},{"s":"B1","t":37.6,"p":-1.3},{"s":"B1","t":37.9,"p":-1.6},{"s":"B1","t":38.2,"p":-1.9},{"s":"B1","t":38.5,"p":-2.2},{"s":"B1","t":38.8,"p":-2.45},{"s":"B1","t":39.1,"p":-2.7},{"s":"B1","t":39.4,"p":-2.95},{"s":"B1","t":39.7,"p":-3.15},{"s":"B1","t":40.0,"p":-3.35},{"s":"B1","t":40.3,"p":-3.55},{"s":"B1","t":40.6,"p":-3.7},{"s":"B1","t":40.9,"p":-3.85},{"s":"B1","t":41.2,"p":-4.0},{"s":"B1","t":41.5,"p":-4.2},{"s":"B1","t":41.8,"p":-4.4},{"s":"B1","t":42.0,"p":-4.6},{"s":"B1","t":42.05,"p":-3.4},{"s":"B1","t":42.3,"p":-3.2},{"s":"B1","t":42.6,"p":-3.05},{"s":"B1","t":42.9,"p":-2.85},{"s":"B1","t":43.2,"p":-2.65},{"s":"B1","t":43.5,"p":-2.5},{"s":"B1","t":43.8,"p":-2.35},{"s":"B1","t":44.1,"p":-2.2},{"s":"B1","t":44.4,"p":-2.05},{"s":"B1","t":44.7,"p":-1.9},{"s":"B1","t":45.0,"p":-1.75},{"s":"B1","t":45.3,"p":-1.65},{"s":"B1","t":45.6,"p":-1.55},{"s":"B1","t":45.9,"p":-1.5},{"s":"B1","t":46.2,"p":-1.5},{"s":"B1","t":46.5,"p":-1.55},{"s":"B1","t":46.8,"p":-1.6},{"s":"B1","t":47.1,"p":-1.65},{"s":"B1","t":47.4,"p":-1.7},{"s":"B1","t":47.7,"p":-1.75},{"s":"B1","t":48.0,"p":-1.8},{"s":"B1","t":48.3,"p":-1.75},{"s":"B1","t":48.6,"p":-1.7},{"s":"B1","t":48.9,"p":-1.65},{"s":"B1","t":49.2,"p":-1.7},{"s":"B1","t":49.5,"p":-1.8},{"s":"B1","t":49.8,"p":-1.9},{"s":"B1","t":50.0,"p":-2.0}
]
},
"concat": [
  {
    "width": 635, "height": 514.5,
    "resolve": {"axis": {"y": "independent"}},
    "layer": [
      {"data": {"values": [{}]}, "mark": {"type": "rule", "color": "#444", "strokeWidth": 1},
       "encoding": {"x": {"datum": -20.665, "scale": {"domain": [-22.47, 69.23], "nice": false, "zero": false}}, "x2": {"datum": 67.28}, "y": {"datum": 15.393, "scale": {"domain": [-15.67, 16.23], "nice": false, "zero": false}, "axis": null}}},
      {"data": {"values": [{}]}, "mark": {"type": "rule", "color": "#444", "strokeWidth": 1},
       "encoding": {"x": {"datum": 67.28}, "y": {"datum": 15.393, "axis": null}, "y2": {"datum": -11.95}}},
      {"data": {"values": [{}]}, "mark": {"type": "rule", "color": "#222", "strokeWidth": 1.2},
       "encoding": {"x": {"datum": -5}, "y": {"datum": -9, "axis": null}, "y2": {"datum": 12}}},
      {"data": {"values": [{}]}, "mark": {"type": "rule", "color": "#222", "strokeWidth": 1.2},
       "encoding": {"x": {"datum": -5}, "x2": {"datum": 55}, "y": {"datum": -9, "axis": null}}},
      {"data": {"name": "sensors"},
       "transform": [{"filter": "datum.s === 'T4'"}],
       "mark": {"type": "line", "strokeWidth": 2, "strokeJoin": "round"},
       "encoding": {
         "x": {"field": "t", "type": "quantitative", "scale": {"domain": [-22.47, 69.23], "nice": false, "zero": false},
               "axis": {"title": "Time(ms)", "offset": -107.5, "values": [-5,0,5,10,15,20,25,30,35,40,45,50,55], "labelOverlap": false, "labelExpr": "datum.value % 10 == 0 ? format(datum.value, 'd') : ''", "tickSize": {"condition": {"test": "datum.value % 10 != 0", "value": 3}, "value": 5}, "labelPadding": 5, "titleX": 328.8, "titleY": 41.5, "titleBaseline": "middle", "titleAlign": "center"}},
         "y": {"field": "p", "type": "quantitative", "scale": {"domain": [-15.67, 16.23], "nice": false, "zero": false},
               "axis": {"orient": "left", "title": "Pressure(psi)", "offset": -121, "values": [-8,-6,-4,-2,0,2,4,6,8,10,12], "labelOverlap": false, "tickSize": 5, "labelPadding": 3, "titleX": -38.5, "titleY": 237.7, "titleAngle": -90, "titleBaseline": "middle", "titleAlign": "center"}},
         "color": {"field": "s", "type": "nominal", "scale": {"domain": ["T4"], "range": ["#111111"]},
                   "legend": {"title": null, "orient": "none", "legendX": 466, "legendY": 32, "padding": 4, "symbolSize": 1296, "encode": {"symbols": {"update": {"opacity": {"value": 0.3}}}}}}
       }},
      {"data": {"name": "ann"}, "mark": {"type": "text", "align": "left", "baseline": "middle", "dx": 1, "dy": 8, "font": "Liberation Sans", "fontSize": 16.5, "color": "#222"},
       "encoding": {
         "x": {"field": "t", "type": "quantitative"},
         "y": {"field": "p", "type": "quantitative",
               "axis": {"orient": "left", "title": null, "offset": -121, "values": [-9,-7,-5,-3,-1,1,3,5,7,9,11], "labels": false, "tickSize": 3}},
         "text": {"field": "label"}}}
    ]
  },
  {
    "width": 621, "height": 514.5,
    "layer": [
      {"data": {"values": [{}]}, "mark": {"type": "rect", "color": {"gradient": "linear", "x1": 0, "y1": 0, "x2": 0, "y2": 1, "stops": [{"offset": 0, "color": "#d6d6d6"}, {"offset": 1, "color": "#fbfbfb"}]}},
       "encoding": {"x": {"datum": -20.68, "scale": {"domain": [-22.675, 68.945], "nice": false, "zero": false}}, "x2": {"datum": 67.25}, "y": {"datum": 19.043, "scale": {"domain": [-19.178, 20.073], "nice": false, "zero": false}}, "y2": {"datum": 18.204}}},
      {"data": {"values": [{}]}, "mark": {"type": "rule", "color": "#444", "strokeWidth": 1},
       "encoding": {"x": {"datum": 67.25}, "y": {"datum": 19.043}, "y2": {"datum": -15.82}}},
      {"data": {"values": [{}]}, "mark": {"type": "rule", "color": "#222", "strokeWidth": 1.2},
       "encoding": {"x": {"datum": -5}, "y": {"datum": -10}, "y2": {"datum": 15}}},
      {"data": {"values": [{}]}, "mark": {"type": "rule", "color": "#222", "strokeWidth": 1.2},
       "encoding": {"x": {"datum": -5}, "x2": {"datum": 55}, "y": {"datum": -10}}},
      {"data": {"name": "sensors"},
       "mark": {"type": "line", "strokeWidth": 1.5, "strokeJoin": "round"},
       "encoding": {
         "x": {"field": "t", "type": "quantitative", "scale": {"domain": [-22.675, 68.945], "nice": false, "zero": false},
               "axis": {"title": "Time(ms)", "offset": -120.3, "values": [-5,0,5,10,15,20,25,30,35,40,45,50,55], "labelOverlap": false, "labelExpr": "datum.value % 10 === 0 ? datum.label : ''", "tickSize": {"condition": {"test": "datum.value % 10 !== 0", "value": 3}, "value": 5}, "labelPadding": 4, "titleX": 323.2, "titleY": 40.3, "titleBaseline": "middle", "titleAlign": "center"}},
         "y": {"field": "p", "type": "quantitative", "scale": {"domain": [-19.178, 20.073], "nice": false, "zero": false},
               "axis": {"title": "Pressure(psi)", "offset": -119.8, "values": [-10,-7.5,-5,-2.5,0,2.5,5,7.5,10,12.5,15], "labelOverlap": false, "labelExpr": "datum.value % 5 === 0 ? datum.label : ''", "tickSize": {"condition": {"test": "datum.value % 5 !== 0", "value": 3}, "value": 5}, "labelPadding": 5, "titleX": -45, "titleY": 230.35, "titleAngle": -90, "titleBaseline": "middle", "titleAlign": "center"}},
         "color": {"field": "s", "type": "nominal", "scale": {"domain": ["D4","D2","C2","T4","C1","B1"], "range": ["#2e2e2e","#e8292b","#2262d9","#2b9e4d","#a56fe6","#c9a126"]},
                   "legend": {"title": null, "orient": "none", "legendX": 458, "legendY": 31, "padding": 3, "rowPadding": 4, "symbolSize": 1156, "labelOffset": 4, "encode": {"symbols": {"update": {"opacity": {"value": 0.4}}}}}}
       }}
    ]
  },
  {"width": 635, "height": 135.5, "data": {"name": "cap1"},
   "mark": {"type": "text", "align": "left", "baseline": "middle", "font": "Liberation Serif", "fontSize": 33, "color": "black"},
   "encoding": {"x": {"value": 18}, "y": {"field": "line", "type": "quantitative", "scale": {"domain": [0.384, 4.553], "reverse": true, "nice": false, "zero": false}, "axis": null}, "text": {"field": "text"}}},
  {"width": 621, "height": 135.5, "data": {"name": "cap2"},
   "mark": {"type": "text", "align": "left", "baseline": "middle", "font": "Liberation Serif", "fontSize": 31.5, "color": "black"},
   "encoding": {"x": {"value": 17.5}, "y": {"field": "line", "type": "quantitative", "scale": {"domain": [0.384, 4.553], "reverse": true, "nice": false, "zero": false}, "axis": null}, "text": {"field": "text"}}}
]
}
